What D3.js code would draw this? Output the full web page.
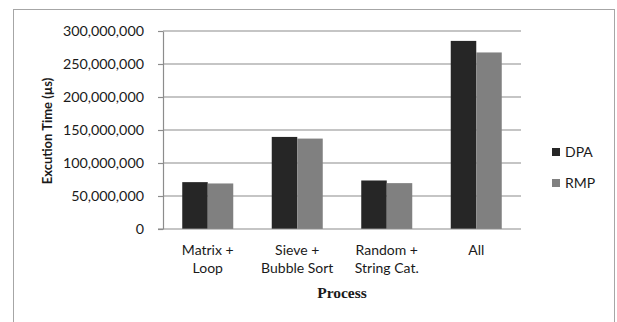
<!DOCTYPE html>
<html>
<head>
<meta charset="utf-8">
<script src="https://cdn.jsdelivr.net/npm/d3@7"></script>
<style>
  body { margin: 0; background: #fff; }
  text { font-family: Lato, "Open Sans", sans-serif; fill: #1a1a1a; }
</style>
</head>
<body>
<script>
// data
const categories = ["Matrix +|Loop", "Sieve +|Bubble Sort", "Random +|String Cat.", "All"];
const series = ["DPA", "RMP"];
const dpa = [71000000, 139500000, 73500000, 285000000];
const rmp = [69000000, 137000000, 69500000, 267500000];
const yTicks = [0, 50000000, 100000000, 150000000, 200000000, 250000000, 300000000];
const colors = { DPA: "#262626", RMP: "#808080" };

const wSvg = 617;
const hSvg = 322;
const pLeft = 163, pRight = 521, pTop = 31, pBottom = 229;

const svg = d3.select("body")
    .append("svg")
    .attr("width", wSvg)
    .attr("height", hSvg);

// outer frame
svg.append("rect")
    .attr("x", 13.5).attr("y", 9.5)
    .attr("width", 601).attr("height", 330)
    .attr("fill", "none")
    .attr("stroke", "#a6a6a6");

const rows = categories.map((c, i) => ({ cat: c, DPA: dpa[i], RMP: rmp[i] }));

const x0 = d3.scaleBand(categories, [pLeft, pRight]);
const x1 = d3.scaleBand(series, [0, x0.bandwidth()]).paddingOuter(0.755);
const yScale = d3.scaleLinear([0, 300000000], [pBottom, pTop]);

// gridlines
svg.append("g")
    .selectAll("line")
    .data(yTicks.slice(1))
    .enter()
    .append("line")
    .attr("x1", pLeft).attr("x2", pRight)
    .attr("y1", d => yScale(d)).attr("y2", d => yScale(d))
    .attr("stroke", "#8c8c8c")
    .attr("stroke-width", 1.2);

// bars
svg.append("g")
    .selectAll("g")
    .data(rows)
    .enter()
    .append("g")
    .attr("transform", d => `translate(${x0(d.cat)},0)`)
    .selectAll("rect")
    .data(d => series.map(s => ({ s: s, v: d[s] })))
    .enter()
    .append("rect")
    .attr("x", d => x1(d.s))
    .attr("width", x1.bandwidth())
    .attr("y", d => yScale(d.v))
    .attr("height", d => yScale(0) - yScale(d.v))
    .attr("fill", d => colors[d.s]);

// y axis
const yAxis = svg.append("g")
    .attr("transform", `translate(${pLeft},0)`)
    .call(d3.axisLeft(yScale).tickValues(yTicks).tickSize(5).tickPadding(14)
        .tickFormat(d3.format(",")).tickSizeOuter(0));
yAxis.select(".domain").attr("stroke", "#8c8c8c").attr("stroke-width", 1.2);
yAxis.selectAll(".tick line").attr("stroke", "#8c8c8c").attr("stroke-width", 1.2);
yAxis.selectAll(".tick text")
    .style("font-size", "14.3px")
    .style("fill", "#1a1a1a");

// x axis line
svg.append("line")
    .attr("x1", pLeft - 5).attr("x2", pRight)
    .attr("y1", pBottom).attr("y2", pBottom)
    .attr("stroke", "#8c8c8c")
    .attr("stroke-width", 1.2);

// category labels
const catLabels = svg.append("g")
    .selectAll("text")
    .data(categories)
    .enter()
    .append("text")
    .attr("text-anchor", "middle")
    .style("font-size", "14px")
    .attr("x", d => x0(d) + x0.bandwidth() / 2)
    .attr("y", 255);
catLabels.selectAll("tspan")
    .data(d => d.split("|"))
    .enter()
    .append("tspan")
    .attr("x", function () { return this.parentNode.getAttribute("x"); })
    .attr("dy", (d, i) => i == 0 ? 0 : 18)
    .text(d => d);

// axis titles
svg.append("text")
    .attr("x", (pLeft + pRight) / 2)
    .attr("y", 298)
    .attr("text-anchor", "middle")
    .style("font-family", "'Liberation Serif', 'DejaVu Serif', serif")
    .style("font-weight", "bold")
    .style("font-size", "15.5px")
    .text("Process");

svg.append("text")
    .attr("transform", "translate(52,131) rotate(-90)")
    .attr("text-anchor", "middle")
    .style("font-weight", "bold")
    .style("font-size", "13px")
    .text("Excution Time (µs)");

// legend
const legend = svg.append("g")
    .selectAll("g")
    .data(series)
    .enter()
    .append("g")
    .attr("transform", (d, i) => `translate(552,${148 + i * 31})`);
legend.append("rect")
    .attr("width", 8).attr("height", 8)
    .attr("fill", d => colors[d]);
legend.append("text")
    .attr("x", 13).attr("y", 9)
    .style("font-size", "14px")
    .text(d => d);
</script>
</body>
</html>
